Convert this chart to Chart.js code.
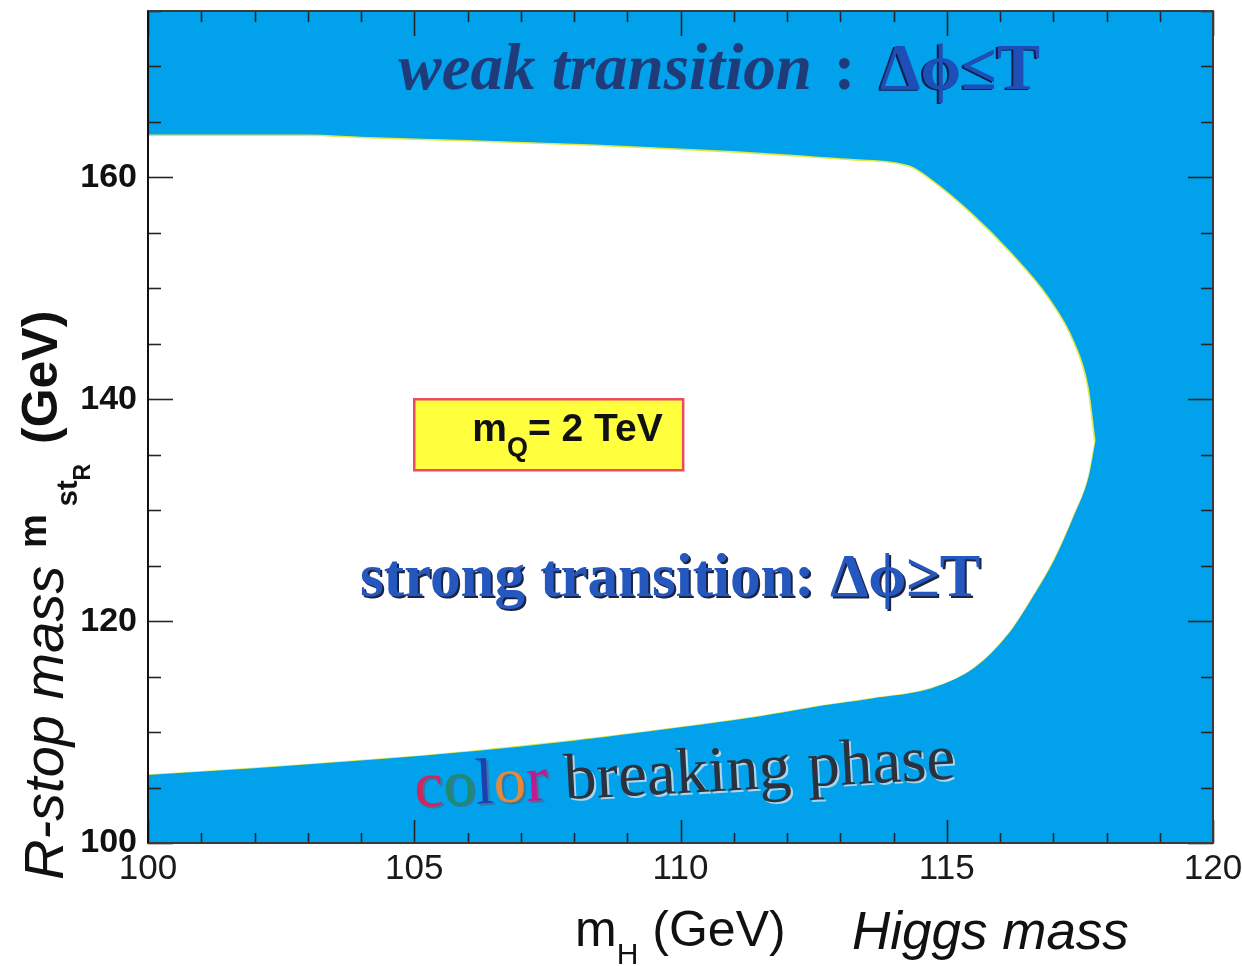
<!DOCTYPE html>
<html>
<head>
<meta charset="utf-8">
<title>Electroweak phase transition: stop mass vs Higgs mass</title>
<script src="https://cdn.jsdelivr.net/npm/chart.js@4.4.1/dist/chart.umd.min.js"></script>
<style>
  html, body { margin: 0; padding: 0; background: #ffffff; }
  #wrap { width: 1242px; height: 966px; position: relative; }
</style>
</head>
<body>
<div id="wrap"><canvas id="phase" width="1242" height="966"></canvas></div>
<script>
// Upper edge of the strong-transition region (weak transition above it)
const higgsMassUpper = [100, 103, 104, 106, 108.4, 111, 112.6, 113.2, 114.3, 114.7, 115.45, 116.2, 116.9, 117.39, 117.65, 117.78];
const stopMassUpper  = [163.8, 163.8, 163.6, 163.3, 162.9, 162.3, 161.8, 161.6, 161.0, 159.8, 156.8, 153.2, 149.2, 145.1, 141.1, 136.3];

// Lower edge of the strong-transition region (colour breaking below it)
const higgsMassLower = [100, 102, 104, 106, 108, 110, 111.5, 112.6, 113.6, 114.7, 115.5, 116.15, 116.64, 117.0, 117.39, 117.65, 117.78];
const stopMassLower  = [106.2, 106.8, 107.5, 108.3, 109.3, 110.5, 111.5, 112.4, 113.1, 114.0, 115.8, 118.9, 122.5, 125.5, 129.7, 133.0, 136.3];

// Labelled axis values
const xTickLabels = ['100', '105', '110', '115', '120'];
const yTickLabels = ['100', '120', '140', '160'];

const PHASE_BLUE = '#01a1eb';
const EDGE_YELLOW = '#dfe84a';
const SANS = "'Liberation Sans', Arial, Helvetica, sans-serif";
const NARROW = "'Liberation Sans Narrow', 'Liberation Sans', Arial, sans-serif";
const SERIF = "'Liberation Serif', 'Times New Roman', Times, serif";
const PHI = 'ϕ';

const toPoints = (xs, ys) => xs.map((x, i) => ({ x: x, y: ys[i] }));

// Blue background for the chart area, inward tick marks and frame
const frameAndTicks = {
  id: 'frameAndTicks',
  beforeDraw(chart) {
    const { ctx, chartArea: a } = chart;
    ctx.save();
    ctx.fillStyle = PHASE_BLUE;
    ctx.fillRect(a.left, a.top, a.width, a.height);
    ctx.restore();
  },
  afterDatasetsDraw(chart) {
    const { ctx, chartArea: a, scales: { x, y } } = chart;
    const seg = (x1, y1, x2, y2) => { ctx.beginPath(); ctx.moveTo(x1, y1); ctx.lineTo(x2, y2); ctx.stroke(); };
    ctx.save();
    ctx.strokeStyle = '#262626';
    ctx.lineWidth = 1.6;
    x.ticks.forEach(t => {
      const px = Math.round(x.getPixelForValue(t.value)) + 0.5;
      const major = xTickLabels.includes(String(t.value));
      seg(px, a.bottom, px, a.bottom - (major ? 23 : 10));
      seg(px, a.top, px, a.top + (major ? 25 : 11));
    });
    y.ticks.forEach(t => {
      const py = Math.round(y.getPixelForValue(t.value)) + 0.5;
      const major = yTickLabels.includes(String(t.value));
      seg(a.left, py, a.left + (major ? 25 : 13), py);
      seg(a.right, py, a.right - (major ? 25 : 12), py);
    });
    ctx.strokeStyle = '#3a3a3a';
    ctx.lineWidth = 2;
    ctx.strokeRect(a.left, a.top, a.width, a.height);
    ctx.strokeStyle = '#111111';
    seg(a.left, a.top, a.left, a.bottom);
    ctx.restore();
  }
};

// Region labels and the parameter box
const phaseLabels = {
  id: 'phaseLabels',
  afterDatasetsDraw(chart) {
    const { ctx, scales: { x, y } } = chart;
    ctx.save();
    ctx.textBaseline = 'alphabetic';
    ctx.textAlign = 'left';

    // weak transition : Δϕ≤T
    let px = x.getPixelForValue(104.7);
    let py = y.getPixelForValue(168.0);
    ctx.font = `italic bold 65px ${SERIF}`;
    ctx.fillStyle = '#1f3b7a';
    ctx.fillText('weak transition', px, py);
    px += ctx.measureText('weak transition').width + 22;
    ctx.font = `bold 65px ${SERIF}`;
    ctx.fillText(':', px, py);
    px += ctx.measureText(': ').width + 8;
    const weakSym = 'Δ' + PHI + '≤T';
    ctx.fillStyle = '#0e1d4c';
    ctx.fillText(weakSym, px - 2, py + 1);
    ctx.fillStyle = '#1e4fb6';
    ctx.fillText(weakSym, px, py);

    // strong transition: Δϕ≥T
    px = x.getPixelForValue(103.98);
    py = y.getPixelForValue(122.3);
    const strongText = 'strong transition: Δ' + PHI + '≥T';
    ctx.font = `bold 61px ${SERIF}`;
    ctx.fillStyle = '#1c2446';
    ctx.fillText(strongText, px + 2, py + 2);
    ctx.fillStyle = '#2558bf';
    ctx.fillText(strongText, px, py);

    // color breaking phase (slightly tilted, multicoloured "color")
    px = x.getPixelForValue(105.02);
    py = y.getPixelForValue(103.25);
    ctx.translate(px, py);
    ctx.rotate(-3 * Math.PI / 180);
    ctx.font = `65px ${SERIF}`;
    const letters = [['c', '#d3245c'], ['o', '#1f8a6e'], ['l', '#1f3fb0'], ['o', '#e2893c'], ['r', '#c5188f']];
    let cx = 0;
    letters.forEach(([ch, col]) => {
      ctx.fillStyle = 'rgba(90,90,110,0.55)';
      ctx.fillText(ch, cx + 2, 2);
      ctx.fillStyle = col;
      ctx.fillText(ch, cx, 0);
      cx += ctx.measureText(ch).width;
    });
    cx += ctx.measureText(' ').width;
    ctx.fillStyle = 'rgba(215,225,235,0.8)';
    ctx.fillText('breaking phase', cx + 2, 2);
    ctx.fillStyle = '#2b313d';
    ctx.fillText('breaking phase', cx, 0);
    ctx.setTransform(1, 0, 0, 1, 0, 0);

    // m_Q = 2 TeV box
    const bx0 = x.getPixelForValue(105.0), bx1 = x.getPixelForValue(110.05);
    const by0 = y.getPixelForValue(140.0), by1 = y.getPixelForValue(133.6);
    ctx.fillStyle = '#ffff3e';
    ctx.fillRect(bx0, by0, bx1 - bx0, by1 - by0);
    ctx.strokeStyle = '#ec4a63';
    ctx.lineWidth = 2.5;
    ctx.strokeRect(bx0, by0, bx1 - bx0, by1 - by0);
    ctx.fillStyle = '#111111';
    const tb = by0 + 42;
    let tx = bx0 + 58;
    ctx.font = `bold 39px ${SANS}`;
    ctx.fillText('m', tx, tb);
    tx += ctx.measureText('m').width;
    ctx.font = `bold 27px ${SANS}`;
    ctx.fillText('Q', tx, tb + 15);
    tx += ctx.measureText('Q').width;
    ctx.font = `bold 39px ${SANS}`;
    ctx.fillText('= 2 TeV', tx, tb);
    ctx.restore();
  }
};

// Axis titles with subscripts
const axisTitles = {
  id: 'axisTitles',
  afterDraw(chart) {
    const { ctx, chartArea: a } = chart;
    ctx.save();
    ctx.fillStyle = '#111111';
    ctx.textBaseline = 'alphabetic';
    ctx.textAlign = 'left';

    // horizontal: m_H (GeV)    Higgs mass
    const base = a.bottom + 103;
    let tx = a.left + 427;
    ctx.font = `50px ${SANS}`;
    ctx.fillText('m', tx, base);
    tx += ctx.measureText('m').width;
    ctx.font = `30px ${SANS}`;
    ctx.fillText('H', tx, base + 18);
    tx += ctx.measureText('H').width + 14;
    ctx.font = `50px ${SANS}`;
    ctx.fillText('(GeV)', tx, base);
    ctx.font = `italic 53px ${SANS}`;
    ctx.fillText('Higgs mass', a.left + 704, base + 3);

    // vertical: R-stop mass  m_st_R  (GeV)
    ctx.translate(a.left - 85, a.bottom + 37);
    ctx.rotate(-Math.PI / 2);
    let rx = 0;
    ctx.font = `italic 56px ${SANS}`;
    ctx.fillText('R-stop mass', rx, 0);
    rx = 332;
    ctx.font = `bold 38px ${SANS}`;
    ctx.fillText('m', rx, -17);
    rx += ctx.measureText('m').width + 8;
    ctx.font = `bold 29px ${SANS}`;
    ctx.fillText('st', rx, 14);
    rx += ctx.measureText('st').width;
    ctx.font = `bold 23px ${SANS}`;
    ctx.fillText('R', rx, 27);
    rx = 436;
    ctx.font = `bold 50px ${SANS}`;
    ctx.fillText('(GeV)', rx, -6);
    ctx.restore();
  }
};

new Chart(document.getElementById('phase'), {
  type: 'line',
  data: {
    datasets: [
      {
        label: 'strong transition (upper edge)',
        data: toPoints(higgsMassUpper, stopMassUpper),
        borderColor: EDGE_YELLOW,
        borderWidth: 1.6,
        backgroundColor: '#ffffff',
        fill: 1,
        pointRadius: 0,
        cubicInterpolationMode: 'monotone'
      },
      {
        label: 'strong transition (lower edge)',
        data: toPoints(higgsMassLower, stopMassLower),
        borderColor: EDGE_YELLOW,
        borderWidth: 1.6,
        backgroundColor: '#ffffff',
        fill: false,
        pointRadius: 0,
        cubicInterpolationMode: 'monotone'
      }
    ]
  },
  options: {
    responsive: false,
    devicePixelRatio: 1,
    animation: false,
    events: [],
    layout: { padding: { left: 0, right: 29, top: 11, bottom: 0 } },
    plugins: {
      legend: { display: false },
      tooltip: { enabled: false },
      title: { display: false }
    },
    scales: {
      x: {
        type: 'linear',
        min: 100,
        max: 120,
        afterFit(scale) {
          scale.height = 123;
          scale.paddingLeft = 0;
          scale.paddingRight = 0;
        },
        grid: { display: false, drawTicks: false, tickLength: 0 },
        border: { display: false },
        ticks: {
          stepSize: 1,
          autoSkip: false,
          maxRotation: 0,
          includeBounds: false,
          padding: 5,
          color: '#1a1a1a',
          font: { family: NARROW, size: 35 },
          callback: v => (xTickLabels.includes(String(v)) ? String(v) : '')
        }
      },
      y: {
        type: 'linear',
        min: 100,
        max: 175,
        afterFit(scale) {
          scale.width = 148;
          scale.paddingTop = 0;
          scale.paddingBottom = 0;
        },
        grid: { display: false, drawTicks: false, tickLength: 0 },
        border: { display: false },
        ticks: {
          stepSize: 5,
          autoSkip: false,
          includeBounds: false,
          padding: 11,
          color: '#111111',
          font: { family: NARROW, size: 34, weight: 'bold' },
          callback: v => (yTickLabels.includes(String(v)) ? String(v) : '')
        }
      }
    }
  },
  plugins: [frameAndTicks, phaseLabels, axisTitles]
});
</script>
</body>
</html>
